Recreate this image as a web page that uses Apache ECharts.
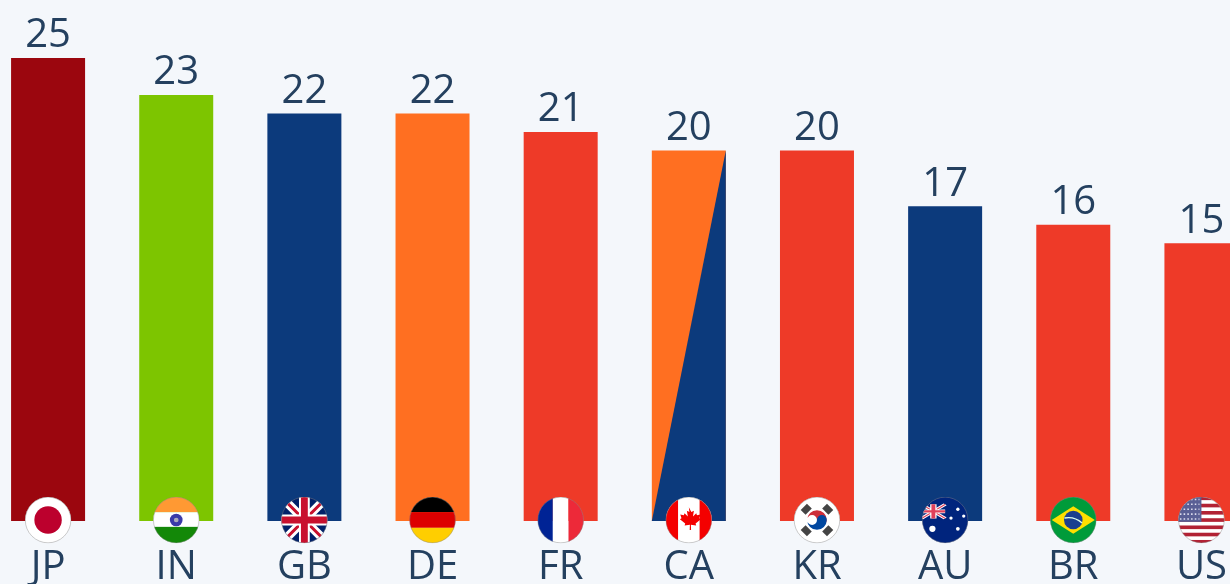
<!DOCTYPE html>
<html><head><meta charset="utf-8">
<style>html,body{margin:0;padding:0;background:#f4f7fb;overflow:hidden}#c{width:1230px;height:584px}</style>
<script src="https://cdn.jsdelivr.net/npm/echarts@6/dist/echarts.min.js"></script>
</head><body><div id="c"></div>
<script>
const categories = ['JP','IN','GB','DE','FR','CA','KR','AU','BR','US'];
const values = [25,23,22,22,21,20,20,17,16,15];
const barColors = ['#9b060e','#7dc500','#0c3a7c','#ff6f21','#ee3a28','#ff6f21','#ee3a28','#0c3a7c','#ee3a28','#ee3a28'];
const splitBars = [['CA',20,'#0c3a7c']];

const unionJack = `<rect width="48" height="48" fill="#012169"/>
<path d="M0 0L48 48M48 0L0 48" stroke="#fff" stroke-width="9"/>
<path d="M0 0L48 48M48 0L0 48" stroke="#c8102e" stroke-width="3"/>
<path d="M24 0V48M0 24H48" stroke="#fff" stroke-width="11"/>
<path d="M24 0V48M0 24H48" stroke="#c8102e" stroke-width="7"/>`;
const flags = {
 JP:`<rect width="48" height="48" fill="#fff"/><circle cx="24" cy="24" r="14" fill="#bc002d"/>`,
 IN:`<rect width="48" height="16" fill="#ff9933"/><rect y="16" width="48" height="16" fill="#fff"/><rect y="31" width="48" height="17" fill="#138808"/><circle cx="24" cy="24" r="6.5" fill="#3a3aa8"/><circle cx="24" cy="24" r="2.4" fill="#aab"/>`,
 GB:unionJack,
 DE:`<rect width="48" height="16" fill="#000"/><rect y="16" width="48" height="16" fill="#dd0000"/><rect y="32" width="48" height="16" fill="#ffce00"/>`,
 FR:`<rect width="16" height="48" fill="#002395"/><rect x="16" width="16" height="48" fill="#fff"/><rect x="32" width="16" height="48" fill="#ed2939"/>`,
 CA:`<rect width="48" height="48" fill="#fff"/><rect width="13" height="48" fill="#f40000"/><rect x="35" width="13" height="48" fill="#f40000"/><path d="M24 11l2.6 4.8 2.6-1.3-1 6 3.4-3.4.7 2 3.6-.6-1.2 3.8 1.6.9-5.4 4.4.6 2-5.4-.7.2 5.4h-1.4l.2-5.4-5.4.7.6-2-5.4-4.4 1.6-.9-1.2-3.8 3.6.6.7-2 3.4 3.4-1-6 2.6 1.3z" fill="#f40000"/>`,
 KR:`<rect width="48" height="48" fill="#fff"/><path d="M14 24a10 10 0 0 1 20 0a5 5 0 0 1-10 0a5 5 0 0 0-10 0z" fill="#cd2e3a"/><path d="M14 24a5 5 0 0 0 10 0a5 5 0 0 1 10 0a10 10 0 0 1-20 0z" fill="#0047a0"/>
 <g fill="#444"><rect x="-4.5" y="-18" width="9" height="7" transform="translate(24 24) rotate(-45) translate(0 -1)"/><rect x="-4.5" y="-18" width="9" height="7" transform="translate(24 24) rotate(45) translate(0 -1)"/><rect x="-4.5" y="-18" width="9" height="7" transform="translate(24 24) rotate(135) translate(0 -1)"/><rect x="-4.5" y="-18" width="9" height="7" transform="translate(24 24) rotate(225) translate(0 -1)"/></g>`,
 AU:`<rect width="48" height="48" fill="#00247d"/><g transform="translate(0,8) scale(.5,.3)"><path d="M0 0L48 48M48 0L0 48" stroke="#fff" stroke-width="9"/><path d="M0 0L48 48M48 0L0 48" stroke="#e0405a" stroke-width="3"/><path d="M24 0V48M0 24H48" stroke="#fff" stroke-width="13"/><path d="M24 0V48M0 24H48" stroke="#e0405a" stroke-width="8"/></g>
 <g fill="#fff"><circle cx="11" cy="33" r="3.2"/><circle cx="37" cy="13" r="1.7"/><circle cx="30" cy="22" r="1.7"/><circle cx="43" cy="20" r="1.7"/><circle cx="37" cy="33" r="1.9"/></g>`,
 BR:`<rect width="48" height="48" fill="#009b3a"/><path d="M24 10L46 24L24 38L2 24z" fill="#fedf00"/><circle cx="24" cy="24" r="9.5" fill="#1b3f8f"/><path d="M15 22q10-2 18 5" stroke="#dfe" stroke-width="1.4" fill="none"/>`,
 US:`<rect width="48" height="48" fill="#fff"/><g fill="#b22234"><rect width="48" height="3.7"/><rect y="7.4" width="48" height="3.7"/><rect y="14.8" width="48" height="3.7"/><rect y="22.2" width="48" height="3.7"/><rect y="29.6" width="48" height="3.7"/><rect y="37" width="48" height="3.7"/><rect y="44.4" width="48" height="3.7"/></g><rect width="24" height="25.9" fill="#5a5f95"/><path d="M2 3h20M2 8h20M2 13h20M2 18h20M2 23h20" stroke="#dde" stroke-width="1.6" stroke-dasharray="1.6 2.2"/>`
};
function flagImage(code){
  const svg = `<svg xmlns="http://www.w3.org/2000/svg" width="94" height="94" viewBox="0 0 48 48"><defs><clipPath id="k"><circle cx="24" cy="24" r="23.5"/></clipPath></defs><g clip-path="url(#k)">${flags[code]}</g><circle cx="24" cy="24" r="23.3" fill="none" stroke="#8a8a8a" stroke-opacity=".65" stroke-width=".7"/></svg>`;
  return 'image://data:image/svg+xml;charset=utf-8,' + encodeURIComponent(svg);
}
const ink = '#24405f';
const font = '"Open Sans"';
const barW = 74;
const chart = echarts.init(document.getElementById('c'));
chart.setOption({
  animation:false,
  backgroundColor:'#f4f7fb',
  grid:{left:-16,width:1281.5,top:58,height:463,containLabel:false,outerBoundsMode:'none'},
  xAxis:{type:'category',data:categories,axisLine:{show:false},axisTick:{show:false},
    axisLabel:{color:ink,fontFamily:font,fontSize:40,margin:27,interval:0,hideOverlap:false}},
  yAxis:{type:'value',min:0,max:25,show:false,splitLine:{show:false}},
  series:[
    {type:'bar',barWidth:barW,silent:true,clip:false,
     data:values.map((v,i)=>({value:v,itemStyle:{color:barColors[i]}})),
     label:{show:true,position:'top',distance:2,color:ink,fontFamily:font,fontSize:40}},
    {type:'custom',silent:true,z:3,clip:false,data:splitBars,
     renderItem(params,api){
       const a=api.coord([api.value(0),0]), b=api.coord([api.value(0),api.value(1)]);
       const h=barW/2;
       return {type:'polygon',shape:{points:[[a[0]-h,a[1]],[a[0]+h,a[1]],[a[0]+h,b[1]]]},
         style:{fill:splitBars[params.dataIndex][2]}};
     }},
    {type:'scatter',silent:true,z:5,clip:false,symbolSize:47,symbolOffset:[0,-1],
     itemStyle:{opacity:1},
     data:categories.map(c=>({value:[c,0],symbol:flagImage(c)}))}
  ]
});
</script></body></html>
